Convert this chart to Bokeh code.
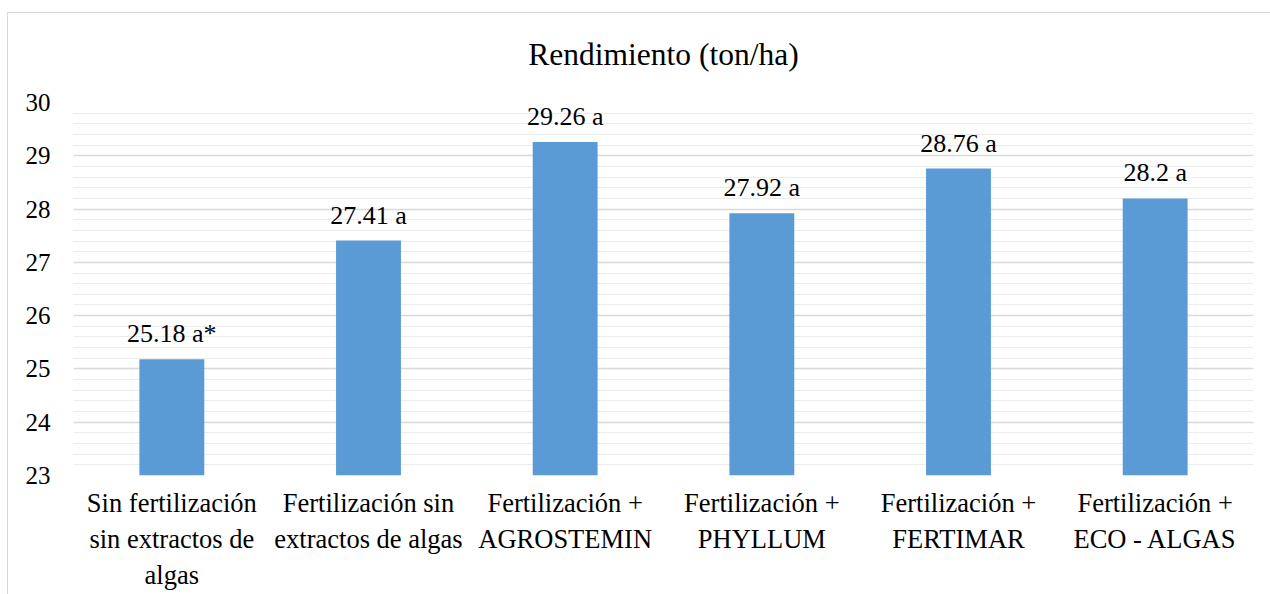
from bokeh.plotting import figure
from bokeh.models import ColumnDataSource, Range1d, SingleIntervalTicker, LabelSet, InlineStyleSheet
from bokeh.core.properties import value
from bokeh.embed import file_html
from bokeh.resources import INLINE

categories = [
    "Sin fertilización\nsin extractos de\nalgas",
    "Fertilización sin\nextractos de algas",
    "Fertilización +\nAGROSTEMIN",
    "Fertilización +\nPHYLLUM",
    "Fertilización +\nFERTIMAR",
    "Fertilización +\nECO - ALGAS",
]
yields = [25.18, 27.41, 29.26, 27.92, 28.76, 28.2]
labels = ["25.18 a*", "27.41 a", "29.26 a", "27.92 a", "28.76 a", "28.2 a"]

FONT = "Liberation Serif"

src = ColumnDataSource(dict(cat=categories, y=yields, lab=labels))

p = figure(
    x_range=categories, y_range=Range1d(23, 30),
    width=1270, height=594, output_backend="svg", toolbar_location=None,
    min_border_left=73, min_border_right=17, min_border_top=102, min_border_bottom=119,
    title="Rendimiento (ton/ha)",
)
p.title.text_font = FONT
p.title.text_font_size = "31.5px"
p.title.text_font_style = "normal"
p.title.align = "center"
p.title.text_color = "#000000"
p.title.standoff = 61

p.vbar(x="cat", top="y", bottom=23, width=0.33, source=src,
       fill_color="#5B9BD5", line_color=None)

p.add_layout(LabelSet(x="cat", y="y", text="lab", source=src,
                      text_font=value(FONT), text_font_size="26px",
                      text_align="center", text_baseline="alphabetic",
                      y_offset=17, text_color="#000000"))

p.yaxis.ticker = SingleIntervalTicker(interval=1, num_minor_ticks=5)
p.ygrid.grid_line_color = "#d9d9d9"
p.ygrid.grid_line_width = 1.5
p.ygrid.minor_grid_line_color = "#ececec"
p.ygrid.minor_grid_line_width = 1.2
p.xgrid.grid_line_color = None

for ax in (p.xaxis, p.yaxis):
    ax.axis_line_color = None
    ax.major_tick_line_color = None
    ax.minor_tick_line_color = None
    ax.major_label_text_color = "#000000"
    ax.major_label_text_font = FONT
p.yaxis.major_label_text_font_size = "25px"
p.yaxis.major_label_standoff = 17
p.xaxis.major_label_text_font_size = "26.5px"
p.xaxis.major_label_standoff = 6

p.outline_line_color = None
p.border_fill_color = "white"

p.stylesheets = [InlineStyleSheet(css="""
:host { position: relative; }
:host::after { content: ""; position: absolute; left: 7px; top: 12px;
  width: 1300px; height: 700px; border: 1.5px solid #d9d9d9;
  pointer-events: none; box-sizing: border-box; }
""")]

open("out.html", "w").write(file_html(p, INLINE))
